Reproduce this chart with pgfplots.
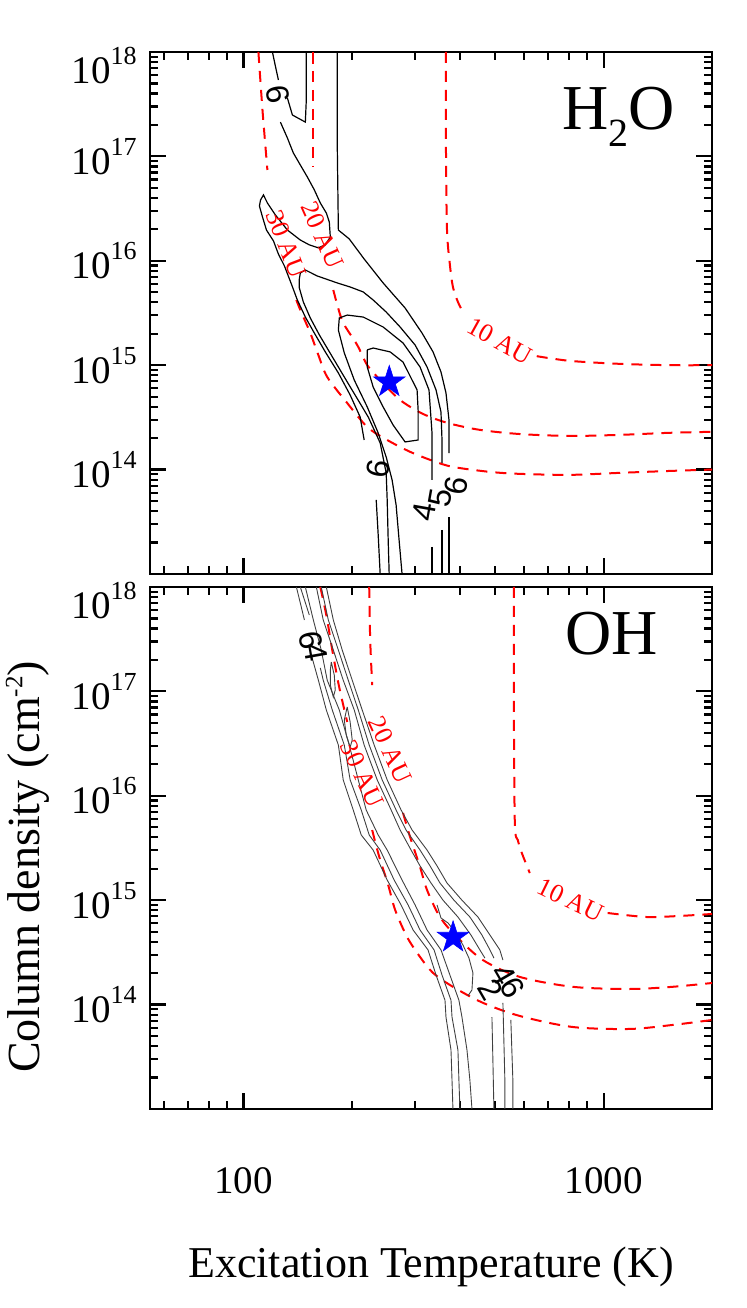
\documentclass[border=0pt]{standalone}
\usepackage{pgfplots}
\pgfplotsset{compat=1.18}
\usepackage{fontspec}
\setmainfont{Liberation Serif}
\newfontfamily\lsans{Liberation Sans}
\usetikzlibrary{plotmarks}

\pgfdeclareplotmark{fstar}{%
  \pgfpathmoveto{\pgfpointpolar{90}{\pgfplotmarksize}}%
  \pgfpathlineto{\pgfpointpolar{126}{0.382\pgfplotmarksize}}%
  \pgfpathlineto{\pgfpointpolar{162}{\pgfplotmarksize}}%
  \pgfpathlineto{\pgfpointpolar{198}{0.382\pgfplotmarksize}}%
  \pgfpathlineto{\pgfpointpolar{234}{\pgfplotmarksize}}%
  \pgfpathlineto{\pgfpointpolar{270}{0.382\pgfplotmarksize}}%
  \pgfpathlineto{\pgfpointpolar{306}{\pgfplotmarksize}}%
  \pgfpathlineto{\pgfpointpolar{342}{0.382\pgfplotmarksize}}%
  \pgfpathlineto{\pgfpointpolar{18}{\pgfplotmarksize}}%
  \pgfpathlineto{\pgfpointpolar{54}{0.382\pgfplotmarksize}}%
  \pgfpathclose
  \pgfusepathqfillstroke
}

\newcommand{\tlab}[1]{10\raisebox{9.5pt}{\fontsize{13}{13}\selectfont #1}}
\newcommand{\tltop}[1]{\raisebox{-7pt}[\height][\depth]{\tlab{#1}}}

\tikzset{
  myrd/.style={red, line width=1pt, dash pattern=on 5.5pt off 4pt, mark=none, smooth},
  mybk/.style={black, line width=0.6pt, mark=none},
  mygk/.style={black!75, line width=0.45pt, mark=none},
  mycl/.style={font=\lsans\fontsize{16}{16}\selectfont, inner sep=0pt},
  myrl/.style={font=\fontsize{13}{13}\selectfont, text=red, inner sep=0pt},
}

\begin{document}
\begin{tikzpicture}
\path[use as bounding box] (0pt,0pt) rectangle (373.5pt,654pt);

% ---------------- H2O panel ----------------
\begin{axis}[at={(75pt,367pt)}, anchor=south west,
    xmode=log, ymode=log, scale only axis,
    width=281pt, height=261pt,
    xmin=55, xmax=2000, ymin=1e13, ymax=1e18,
    axis line style={line width=1.3pt},
    major tick style={black, line width=1.1pt},
    minor tick style={black, line width=1.1pt},
    tick align=inside,
    major tick length=8pt, minor tick length=4pt,
    xtick={100,1000},
    minor xtick={60,70,80,90,200,300,400,500,600,700,800,900,2000},
    ytick={1e14,1e15,1e16,1e17,1e18},
    minor ytick={2e13,3e13,4e13,5e13,6e13,7e13,8e13,9e13,
                 2e14,3e14,4e14,5e14,6e14,7e14,8e14,9e14,
                 2e15,3e15,4e15,5e15,6e15,7e15,8e15,9e15,
                 2e16,3e16,4e16,5e16,6e16,7e16,8e16,9e16,
                 2e17,3e17,4e17,5e17,6e17,7e17,8e17,9e17},
    yticklabels={\tlab{14},\tlab{15},\tlab{16},\tlab{17},\tltop{18}},
    yticklabel style={anchor=east, inner sep=0pt, xshift=-6.5pt},
    tick label style={font=\fontsize{19.5}{20}\selectfont},
    xticklabels={,,}]
% emitting radius curves
\addplot[myrd] coordinates {(365,1e18) (365,1.15e17) (367.4,1.97e16) (374.3,9.12e15) (381.6,5.61e15) (394,4.03e15) (406.8,3.23e15)};
\addplot[myrd] coordinates {(652,1.22e15) (805,1.1e15) (1107,1.03e15) (1523,1.0e15) (2000,1.0e15)};
\addplot[myrd] coordinates {(156.3,1e18) (156.3,7.9e16)};
\addplot[myrd] coordinates {(177.6,5.25e15) (182.2,3.77e15) (189.2,2.54e15) (206.9,1.56e15) (220.6,1.0e15) (239.6,7.21e14) (272.2,4.64e14) (315.2,3.41e14) (369.8,2.79e14) (453.4,2.40e14) (585.2,2.19e14) (805,2.10e14) (1107,2.15e14) (1523,2.25e14) (2000,2.30e14)};
\addplot[myrd] coordinates {(110,1e18) (112.9,2.78e17) (116.5,7.41e16)};
\addplot[myrd] coordinates {(140.2,4.21e15) (143.8,3.38e15) (153.3,2.03e15) (161.4,1.25e15) (170.8,7.71e14) (194.1,4.34e14) (220.6,2.56e14) (250.6,1.92e14) (290.1,1.48e14) (336.0,1.21e14) (381.6,1.06e14) (483.4,9.5e13) (585.2,9.1e13) (805,8.9e13) (1107,9.3e13) (1523,9.7e13) (2000,1.0e14)};
% contours
\addplot[mybk] coordinates {(120.3,1e18) (122.6,7.34e17) (125.0,5.39e17)};
\addplot[mybk] coordinates {(132.4,3.62e17) (136.7,2.49e17) (148.5,2.13e17) (149.4,3.47e17) (149.4,1e18)};
\addplot[mybk] coordinates {(126.6,2.13e17) (132.4,1.50e17) (137.5,1.08e17) (143.8,8.27e16) (150.4,6.35e16) (157.3,4.77e16) (163.4,3.58e16) (169.8,2.87e16) (173.1,2.35e16) (174.2,1.69e16) (168.7,1.42e16) (161.4,1.33e16) (152.3,1.42e16) (143.8,1.58e16) (132.4,1.97e16) (122.6,2.75e16) (116.5,3.58e16) (113.6,4.27e16) (111.5,3.82e16) (110.7,3.35e16) (112.9,2.63e16) (115.8,1.97e16) (121.1,1.55e16) (125.0,1.16e16) (129.9,8.92e15) (135.8,5.99e15) (141.1,4.21e15) (148.5,2.89e15) (157.3,2.03e15) (168.7,1.34e15) (183.4,8.42e14) (197.8,5.18e14) (210.8,3.19e14) (216.3,1.92e14)};
\addplot[mybk] coordinates {(233.6,5.12e13) (236.6,2.36e13) (239.6,1e13)};
\addplot[mybk] coordinates {(253.8,1e13) (252.2,2.12e13) (250.6,5.12e13) (249.0,9.28e13) (239.6,1.80e14) (222.0,3.19e14) (205.6,4.96e14) (190.5,7.71e14) (175.3,1.25e15) (162.4,1.95e15) (153.3,2.83e15) (146.6,4.03e15) (142.9,5.49e15) (142.9,6.69e15) (143.8,7.64e15) (148.5,8.16e15) (160.3,7.15e15) (182.2,6.13e15) (197.8,5.61e15) (215.0,5.03e15) (229.1,4.21e15) (249.0,3.23e15) (272.2,2.32e15) (299.6,1.56e15) (323.4,9.61e14) (342.5,5.79e14) (353.5,3.56e14) (355.8,1.92e14) (355.8,1.16e14)};
\addplot[mybk] coordinates {(355.8,2.64e13) (355.8,1e13)};
\addplot[mybk] coordinates {(275.6,1e13) (270.4,2.12e13) (265.3,4.58e13) (258.6,7.95e13) (249.0,1.32e14) (236.6,2.24e14) (220.6,3.98e14) (203.0,7.21e14) (190.5,1.31e15) (183.4,2.17e15) (184.5,2.83e15) (194.1,3.02e15) (215.0,2.89e15) (244.2,2.32e15) (277.4,1.63e15) (309.2,9.61e14) (327.4,5.79e14) (333.8,2.24e14) (333.8,7.95e13)};
\addplot[mybk] coordinates {(333.8,1.82e13) (333.8,1e13)};
\addplot[mybk] coordinates {(220.6,1.40e15) (229.1,1.46e15) (255.4,1.34e15) (277.4,1.07e15) (303.4,5.79e14) (305.4,3.72e14) (305.4,1.92e14) (281.0,1.84e14) (260.3,2.67e14) (244.2,3.98e14) (229.1,6.18e14) (220.6,9.61e14) (220.6,1.40e15)};
\addplot[mybk] coordinates {(182.2,1e18) (182.2,1.15e17) (183.4,1.97e16) (196.6,1.62e16) (216.3,1.04e16) (244.2,6.13e15) (281.0,3.53e15) (313.2,2.03e15) (336.0,1.34e15) (353.5,8.61e14) (365.0,5.42e14) (372.1,2.99e14) (372.1,1.44e14)};
\addplot[mybk] coordinates {(372.1,3.51e13) (372.1,1e13)};
\addplot[only marks, mark=fstar, mark size=8.3pt, mark options={fill=blue, draw=blue, line width=0.3pt}] coordinates {(254,6.9e14)};
% labels
\node[mycl, rotate=-80] at (axis cs:124.2,3.96e17) {6};
\node[mycl, rotate=80] at (axis cs:236.6,1.01e14) {6};
\node[mycl, rotate=80] at (axis cs:317.3,3.93e13) {4};
\node[mycl, rotate=80] at (axis cs:351.2,5.34e13) {5};
\node[mycl, rotate=80] at (axis cs:389,6.96e13) {6};
\node[myrl, rotate=-69] at (axis cs:131.5,1.45e16) {30 AU};
\node[myrl, rotate=-66] at (axis cs:165.5,1.77e16) {20 AU};
\node[myrl, rotate=-29] at (axis cs:515,1.7e15) {10 AU};
\node[anchor=base east, inner sep=0pt, font=\fontsize{32}{32}\selectfont] at (rel axis cs:0.934,0.851) {H\raisebox{-8.5pt}{\fontsize{20}{20}\selectfont 2}O};
\end{axis}

% ---------------- OH panel ----------------
\begin{axis}[at={(75pt,99.5pt)}, anchor=south west,
    xmode=log, ymode=log, scale only axis,
    width=281pt, height=261pt,
    xmin=55, xmax=2000, ymin=1e13, ymax=1e18,
    axis line style={line width=1.3pt},
    major tick style={black, line width=1.1pt},
    minor tick style={black, line width=1.1pt},
    tick align=inside,
    major tick length=8pt, minor tick length=4pt,
    xtick={100,1000},
    minor xtick={60,70,80,90,200,300,400,500,600,700,800,900,2000},
    ytick={1e14,1e15,1e16,1e17,1e18},
    minor ytick={2e13,3e13,4e13,5e13,6e13,7e13,8e13,9e13,
                 2e14,3e14,4e14,5e14,6e14,7e14,8e14,9e14,
                 2e15,3e15,4e15,5e15,6e15,7e15,8e15,9e15,
                 2e16,3e16,4e16,5e16,6e16,7e16,8e16,9e16,
                 2e17,3e17,4e17,5e17,6e17,7e17,8e17,9e17},
    yticklabels={\tlab{14},\tlab{15},\tlab{16},\tlab{17},\tltop{18}},
    yticklabel style={anchor=east, inner sep=0pt, xshift=-6.5pt},
    tick label style={font=\fontsize{19.5}{20}\selectfont},
    xticklabels={100,1000},
    xticklabel style={anchor=base, inner sep=0pt, yshift=-42.5pt}]
\addplot[myrd] coordinates {(563.2,1e18) (563.2,8.27e16) (566.8,5.49e15) (577.8,3.77e15) (592.8,2.83e15) (623.7,1.82e15)};
\addplot[myrd] coordinates {(1026,7.54e14) (1315,6.90e14) (1623,7.06e14) (2000,7.38e14)};
\addplot[myrd] coordinates {(223.4,1e18) (224.8,3.11e17) (227.7,1.15e17)};
\addplot[myrd] coordinates {(277.4,6.84e15) (290.1,4.03e15) (309.2,2.08e15) (323.4,1.25e15) (351.2,6.90e14) (391.5,4.44e14) (462.1,2.67e14) (585.2,1.84e14) (820.5,1.48e14) (1180,1.41e14) (1553,1.48e14) (2000,1.61e14)};
\addplot[myrd] coordinates {(163.4,1e18) (169.8,5.39e17) (176.4,2.49e17) (183.4,1.20e17) (189.2,7.41e16) (194.1,5.09e16)};
\addplot[myrd] coordinates {(227.7,4.70e15) (232.1,3.61e15) (239.6,2.43e15) (252.2,1.40e15) (263.7,8.06e14) (284.6,4.44e14) (309.2,2.86e14) (336.0,2.01e14) (381.6,1.48e14) (462.1,1.04e14) (585.2,7.78e13) (820.5,6.10e13) (1180,5.84e13) (1553,6.38e13) (2000,7.12e13)};
% contours
\addplot[mygk] coordinates {(140.2,1e18) (143.8,7.03e17) (147.6,4.83e17)};
\addplot[mygk] coordinates {(154.3,2.23e17) (161.4,1.28e17) (169.8,6.64e16) (183.4,3.06e16) (189.2,1.42e16) (201.7,7.31e15) (212.3,4.21e15) (229.1,3.02e15) (250.6,1.56e15) (273.9,9.0e14) (295.8,5.18e14) (325.4,3.34e14) (342.5,1.92e14) (362.7,1.10e14) (365.0,7.6e13) (376.9,3.67e13) (379.3,1.90e13) (381.6,1e13)};
\addplot[mygk] coordinates {(143.8,1e18) (152.3,5.39e17)};
\addplot[mygk] coordinates {(163.4,1.68e17) (166.5,1.28e17) (176.4,6.64e16) (190.5,3.06e16) (197.8,1.42e16) (212.3,7.31e15) (223.4,4.21e15) (239.6,3.02e15) (262.0,1.56e15) (286.5,9.0e14) (309.2,5.18e14) (338.2,3.34e14) (355.8,1.92e14) (376.9,1.10e14) (379.3,7.6e13) (394.0,3.67e13) (396.5,1.90e13) (399.0,1e13)};
\addplot[mygk] coordinates {(148.5,1e18) (156.3,4.83e17) (164.4,2.49e17) (170.8,1.28e17) (184.5,6.64e16) (196.6,3.06e16) (208.3,1.42e16) (219.1,7.31e15) (236.6,4.21e15) (250.6,3.02e15) (275.6,1.56e15) (299.6,9.0e14) (323.4,5.18e14) (353.5,3.34e14) (374.3,1.92e14) (396.5,1.10e14) (404.2,7.6e13) (417.4,3.67e13) (425.2,1.90e13) (430.9,1e13)};
\addplot[mygk] coordinates {(159.3,1e18) (166.5,4.83e17) (177.6,2.49e17) (189.2,1.28e17) (203.0,6.64e16) (216.3,3.06e16) (235.1,1.42e16) (257.0,7.31e15) (272.2,4.70e15) (292.0,3.02e15) (309.2,2.13e15) (331.7,1.46e15) (358.1,1.0e15) (394.0,6.90e14) (428.1,4.64e14) (453.3,3.34e14) (468.1,2.79e14)};
\addplot[mygk] coordinates {(489.6,7.6e13) (492.6,2.95e13) (495.8,1e13)};
\addplot[mygk] coordinates {(164.4,1e18) (172.0,4.83e17) (183.4,2.49e17) (195.4,1.28e17) (208.3,6.64e16) (223.4,3.06e16) (242.7,1.42e16) (265.3,7.31e15) (282.8,4.70e15) (309.2,3.02e15) (329.6,2.13e15) (351.2,1.46e15) (384.1,1.0e15) (425.2,6.90e14) (459.2,4.64e14) (483.4,3.34e14) (495.8,2.79e14)};
\addplot[mygk] coordinates {(525.2,1.04e14) (528.4,4.58e13) (531.8,1.90e13) (531.8,1e13)};
\addplot[mygk] coordinates {(169.8,1e18) (177.6,4.83e17) (188.0,2.49e17) (200.4,1.28e17) (213.6,6.64e16) (230.6,3.06e16) (250.6,1.42e16) (273.9,7.31e15) (293.9,4.70e15) (323.4,3.02e15) (344.7,2.13e15) (367.4,1.46e15) (404.2,1.0e15) (447.7,6.90e14) (483.4,4.64e14) (514.9,3.34e14) (525.2,2.67e14)};
\addplot[mygk] coordinates {(552.5,7.12e13) (556.1,3.67e13) (559.7,1.90e13) (559.7,1e13)};
\addplot[mygk] coordinates {(175.3,1.91e17) (178.7,1.43e17) (179.8,1.03e17) (177.6,8.84e16) (174.2,1.15e17) (174.2,1.60e17) (175.3,1.91e17)};
\addplot[mygk] coordinates {(194.1,7.09e16) (197.8,5.09e16) (200.4,3.42e16) (197.8,2.93e16) (192.9,3.82e16) (190.5,5.32e16) (194.1,7.09e16)};
\addplot[mygk] coordinates {(344.7,9.0e14) (353.5,6.75e14) (369.8,6.05e14) (389.0,4.85e14) (406.8,3.72e14) (422.7,2.79e14) (433.6,2.01e14) (430.9,1.38e14) (420.1,1.21e14)};
\addplot[only marks, mark=fstar, mark size=8.3pt, mark options={fill=blue, draw=blue, line width=0.3pt}] coordinates {(382,4.4e14)};
% labels
\node[mycl, rotate=-80] at (axis cs:154.3,3.11e17) {6};
\node[mycl, rotate=-80] at (axis cs:159.3,2.39e17) {4};
\node[mycl, rotate=-60] at (axis cs:528.4,1.92e14) {4};
\node[mycl, rotate=-60] at (axis cs:486.5,1.38e14) {2};
\node[mycl, rotate=-60] at (axis cs:559.7,1.44e14) {6};
\node[myrl, rotate=-65] at (axis cs:213.6,1.62e16) {30 AU};
\node[myrl, rotate=-65] at (axis cs:255.4,2.75e16) {20 AU};
\node[myrl, rotate=-26] at (axis cs:810,1.0e15) {10 AU};
\node[anchor=base east, inner sep=0pt, font=\fontsize{32}{32}\selectfont] at (rel axis cs:0.904,0.870) {OH};
\end{axis}

\node[anchor=base, inner sep=0pt, font=\fontsize{22}{24}\selectfont] at (215.5pt,15.5pt) {Excitation Temperature (K)};
\node[anchor=base, rotate=90, inner sep=0pt, font=\fontsize{23}{25}\selectfont] at (19.5pt,220.5pt) {Column density (cm\raisebox{0.36em}{\fontsize{12.5}{12.5}\selectfont -2})};
\end{tikzpicture}
\end{document}
